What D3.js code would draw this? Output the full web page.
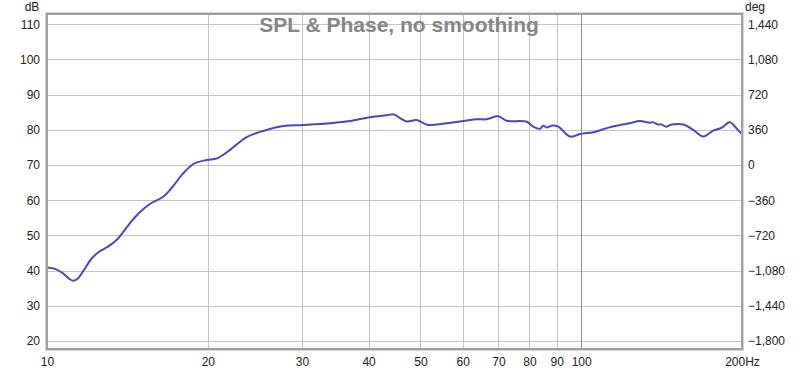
<!DOCTYPE html>
<html><head><meta charset="utf-8">
<script src="https://cdn.jsdelivr.net/npm/d3@7"></script>
<style>
body{margin:0;background:#fff;}
svg{display:block;font-family:Arial,"Liberation Sans",sans-serif;}
</style></head>
<body><svg id="c" width="800" height="370"></svg>
<script>
const freqs = [10,10.35,10.7,11.0,11.2,11.45,11.75,12.1,12.5,12.9,13.5,14.3,14.9,15.6,16.5,17.2,18.0,18.8,19.9,20.8,22.0,23.6,25.4,27.7,30.2,33.9,36.9,40.2,43.5,44.5,47.1,49.2,51.7,56.0,60.2,63.7,66.5,69.9,72.5,79.1,81.3,83.7,84.9,86.2,88.1,90.6,95.3,99.5,100.9,105.4,111.6,118.2,123.4,128.8,134.5,136,139.4,141,144.5,147.7,155.3,162.1,169.3,176.7,183.2,189.9,194.1,198.3,200];
const spl = [40.9,40.5,39.3,37.7,37.1,37.9,40.4,43.3,45.3,46.5,48.7,53.5,56.5,59.0,61.0,63.9,67.7,70.3,71.45,71.9,74.3,77.9,79.7,81.1,81.4,81.9,82.5,83.6,84.2,84.4,82.4,82.8,81.4,81.9,82.5,83.0,83.0,83.9,82.6,82.3,80.9,80.3,81.2,80.7,81.2,80.9,78.1,78.8,79.0,79.3,80.5,81.4,81.9,82.5,82.0,82.2,81.5,81.6,80.9,81.5,81.5,80.0,78.1,79.8,80.6,82.2,80.9,79.3,78.8];
const xTicks = [10,20,30,40,50,60,70,80,90,100,200];
const xTickLabels = ["10","20","30","40","50","60","70","80","90","100","200Hz"];
const dbTicks = [20,30,40,50,60,70,80,90,100,110];
const degTicks = [-1800,-1440,-1080,-720,-360,0,360,720,1080,1440];
const title = "SPL & Phase, no smoothing";

const svg = d3.select("#c");
const L=47,R=742,T=14,B=349;
const x = d3.scaleLog().domain([10,200]).range([L,R]);
const y = d3.scaleLinear().domain([20,110]).range([341,24.3]);
const yDeg = d3.scaleLinear().domain([-1800,1440]).range([341,24.3]);

// gridlines
const g = svg.append("g");
g.selectAll("line.h").data(dbTicks).enter().append("line")
 .attr("x1",L).attr("x2",R).attr("y1",d=>Math.round(y(d))+0.5).attr("y2",d=>Math.round(y(d))+0.5)
 .attr("stroke","#c4c4c4").attr("stroke-width",1);
g.selectAll("line.v").data(xTicks.filter(d=>d>10&&d<200)).enter().append("line")
 .attr("y1",T).attr("y2",B).attr("x1",d=>Math.round(x(d))+0.5).attr("x2",d=>Math.round(x(d))+0.5)
 .attr("stroke",d=>d===100?"#8a8a8a":"#c4c4c4").attr("stroke-width",1);

// title
svg.append("text").attr("x",399).attr("y",32).attr("text-anchor","middle")
 .attr("font-size",21).attr("font-weight","bold").attr("fill","#858585").text(title);

// curve
const line = d3.line().x(d=>x(d[0])).y(d=>y(d[1])).curve(d3.curveCatmullRom.alpha(0.5));
svg.append("path").datum(freqs.map((f,i)=>[f,spl[i]])).attr("d",line)
 .attr("fill","none").attr("stroke","#4848bc").attr("stroke-width",2);

// frame
svg.append("rect").attr("x",L-1.5).attr("y",T-1.5).attr("width",R-L+3).attr("height",B-T+3)
 .attr("fill","none").attr("stroke","#d4d4d4").attr("stroke-width",1);
svg.append("rect").attr("x",L).attr("y",T).attr("width",R-L).attr("height",B-T)
 .attr("fill","none").attr("stroke","#a0a0a0").attr("stroke-width",2);

// left axis
const la = d3.axisLeft(y).tickValues(dbTicks).tickSize(0).tickPadding(6);
svg.append("g").attr("transform",`translate(${L-1},0)`).call(la)
 .call(s=>s.select(".domain").remove())
 .call(s=>s.selectAll("text").attr("font-size",12).attr("font-family","Arial,'Liberation Sans',sans-serif").attr("fill","#222"));
// right axis
const ra = d3.axisRight(yDeg).tickValues(degTicks).tickSize(0).tickPadding(5).tickFormat(d3.format(","));
svg.append("g").attr("transform",`translate(${R+1},0)`).call(ra)
 .call(s=>s.select(".domain").remove())
 .call(s=>s.selectAll("text").attr("font-size",12).attr("font-family","Arial,'Liberation Sans',sans-serif").attr("fill","#222"));
// bottom axis
const ba = d3.axisBottom(x).tickValues(xTicks).tickSize(0).tickPadding(8).tickFormat((d,i)=>xTickLabels[i]);
svg.append("g").attr("transform",`translate(0,${B})`).call(ba)
 .call(s=>s.select(".domain").remove())
 .call(s=>s.selectAll("text").attr("font-size",12).attr("font-family","Arial,'Liberation Sans',sans-serif").attr("fill","#222"));

svg.append("text").attr("x",32).attr("y",11).attr("text-anchor","middle").attr("font-size",12).attr("fill","#222").text("dB");
svg.append("text").attr("x",745).attr("y",11).attr("font-size",12).attr("fill","#222").text("deg");
</script></body></html>
